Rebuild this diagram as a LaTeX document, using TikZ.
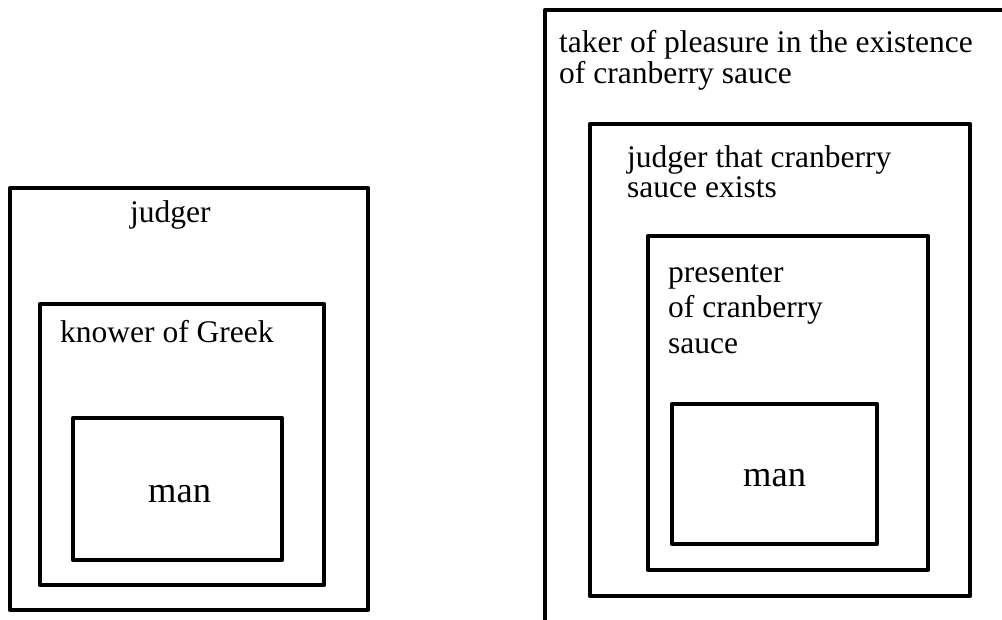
\documentclass[tikz,border=0pt]{standalone}
\usepackage{fontspec}
\setmainfont{Liberation Serif}
\begin{document}
\begin{tikzpicture}[x=1pt,y=-1pt,
  box/.style={draw=black,line width=4.2pt,line join=round},
  lbl/.style={anchor=base west,inner sep=0pt,font=\fontsize{31.5}{36}\selectfont},
  manlbl/.style={anchor=base west,inner sep=0pt,font=\fontsize{36.5}{42}\selectfont}]
\useasboundingbox (0,0) rectangle (1002,619);
\begin{scope}
\clip (0,0) rectangle (1002,619);
% left group
\draw[box] (10,188) rectangle (368,610);
\draw[box] (40,304) rectangle (324,585);
\draw[box] (73,418) rectangle (282,560);
\node[lbl] (judger) at (130,222) {judger};
\node[lbl] (knower) at (60,342) {knower of Greek};
\node[manlbl] (manL) at (148,502) {man};
% right group
\coordinate (ot) at (1010,10);
\coordinate (oc) at (545,10);
\coordinate (ob) at (545,630);
\draw[box] (ot) -- (oc) -- (ob);
\draw[box] (590,124) rectangle (970,596);
\draw[box] (648,236) rectangle (928,570);
\draw[box] (672,404) rectangle (877,544);
\node[lbl] (t1) at (559,52) {taker of pleasure in the existence};
\node[lbl] (t2) at (559,83) {of cranberry sauce};
\node[lbl] (j1) at (627,167) {judger that cranberry};
\node[lbl] (j2) at (627,197) {sauce exists};
\node[lbl] (p1) at (668,282) {presenter};
\node[lbl] (p2) at (668,317) {of cranberry};
\node[lbl] (p3) at (668,353) {sauce};
\node[manlbl] (manR) at (743,486) {man};
\end{scope}
\end{tikzpicture}
\end{document}
